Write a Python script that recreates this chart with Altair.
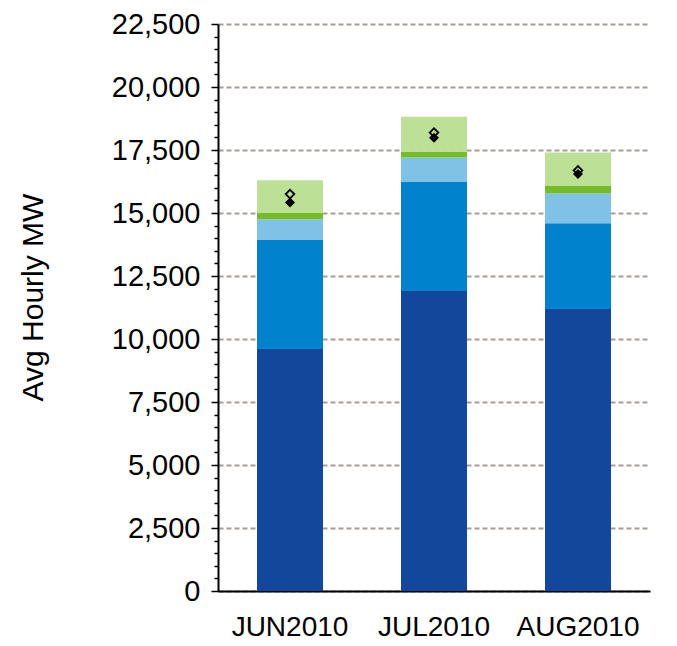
import altair as alt
import pandas as pd

months = ["JUN2010", "JUL2010", "AUG2010"]
series = ["Series 1", "Series 2", "Series 3", "Series 4", "Series 5"]
s1 = [9600, 11900, 11190]
s2 = [4350, 4350, 3400]
s3 = [800, 950, 1190]
s4 = [250, 230, 310]
s5 = [1300, 1390, 1310]
open_marker = [15750, 18190, 16690]
filled_marker = [15420, 17990, 16550]
colors = ["#13479B", "#0082CD", "#80C1E6", "#76BB28", "#BDE097"]
y_ticks = list(range(0, 22501, 500))

rows = []
for i, m in enumerate(months):
    for k, (name, vals) in enumerate(zip(series, [s1, s2, s3, s4, s5])):
        rows.append({"month": m, "series": name, "order": k, "value": vals[i]})
bars_df = pd.DataFrame(rows)
markers_df = pd.DataFrame({"month": months, "open": open_marker, "filled": filled_marker})

FONT = "Liberation Sans"
major = "datum.value % 2500 === 0"

x_axis = alt.Axis(labelAngle=0, labelFont=FONT, labelFontSize=28, labelColor="black",
                  labelPadding=22, ticks=False, tickSize=0, domainColor="black",
                  domainWidth=2, grid=False)
x_scale = alt.Scale(paddingInner=0.54, paddingOuter=0.27)
y_scale = alt.Scale(domain=[0, 22500], nice=False, zero=True)
y_axis = alt.Axis(
    values=y_ticks,
    tickCount=len(y_ticks),
    labelExpr=f"{major} ? format(datum.value, ',') : ''",
    labelOverlap=False,
    labelFont=FONT, labelFontSize=29, labelColor="black", labelPadding=11,
    tickSize={"condition": {"test": major, "value": 7}, "value": 4},
    tickColor="black", tickWidth=1.5,
    domainColor="black", domainWidth=2,
    grid=True,
    gridOpacity={"condition": {"test": major, "value": 1}, "value": 0},
    gridColor="#A69D94", gridDash=[5, 3], gridWidth=2,
    title="Avg Hourly MW", titleFont=FONT, titleFontSize=30, titleFontWeight="normal",
    titleColor="black", titleAngle=270, titleAlign="center", titleBaseline="alphabetic",
    titleX=-176, titleY=273,
)


def xe():
    return alt.X("month:N", sort=months, title=None, scale=x_scale, axis=x_axis)


bars = alt.Chart(bars_df).mark_bar(size=66).encode(
    x=xe(),
    y=alt.Y("value:Q", stack="zero", scale=y_scale, axis=y_axis),
    color=alt.Color("series:N", scale=alt.Scale(domain=series, range=colors), legend=None),
    order=alt.Order("order:Q"),
)

open_pts = alt.Chart(markers_df).mark_point(
    shape="diamond", filled=False, stroke="black", strokeWidth=1.8, size=75, opacity=1
).encode(x=xe(), y=alt.Y("open:Q", scale=y_scale, axis=y_axis))

filled_pts = alt.Chart(markers_df).mark_point(
    shape="diamond", filled=True, color="black", size=100, opacity=1
).encode(x=xe(), y=alt.Y("filled:Q", scale=y_scale, axis=y_axis))

chart = alt.layer(bars, open_pts, filled_pts).properties(
    width=432, height=567,
    autosize=alt.AutoSizeParams(type="none"),
    padding={"left": 210, "top": 16, "right": 10, "bottom": 55},
).configure_view(stroke=None)

chart.save("out.html", embed_options={"renderer": "svg", "actions": False})
